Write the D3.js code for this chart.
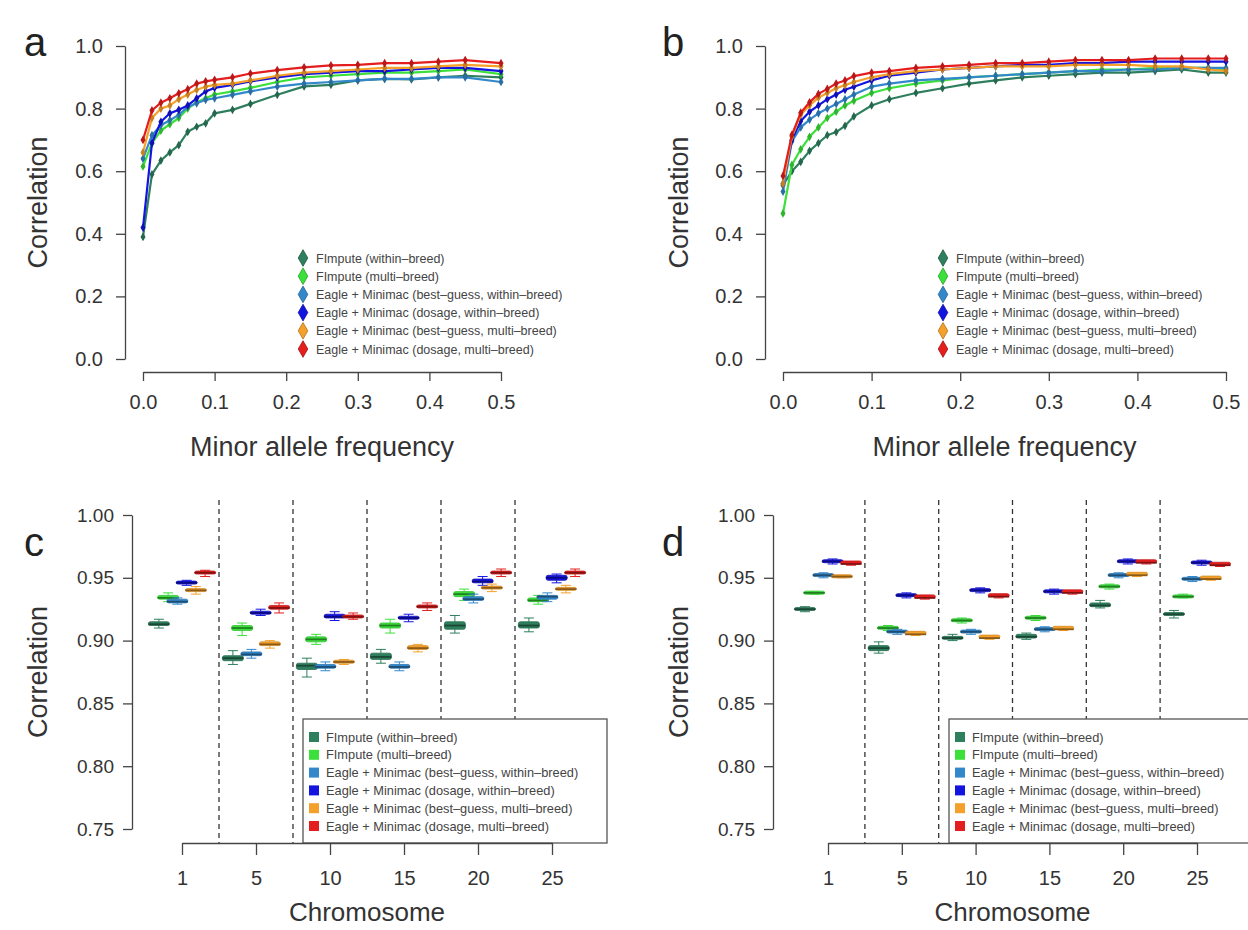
<!DOCTYPE html>
<html><head><meta charset="utf-8">
<script src="https://cdn.jsdelivr.net/npm/d3@7"></script>
<style>
body{margin:0;background:#fff}
text{font-family:"Liberation Sans",Arial,Helvetica,sans-serif;}
</style>
</head><body>
<svg id="fig" width="1248" height="930"></svg>
<script>
// ---------------- DATA ----------------
const methods = [
  "FImpute (within\u2013breed)",
  "FImpute (multi\u2013breed)",
  "Eagle + Minimac (best\u2013guess, within\u2013breed)",
  "Eagle + Minimac (dosage, within\u2013breed)",
  "Eagle + Minimac (best\u2013guess, multi\u2013breed)",
  "Eagle + Minimac (dosage, multi\u2013breed)"
];
const colors = ["#2E7F5E", "#3BE03B", "#3388CC", "#1414E0", "#F5A02A", "#E41E1E"];

// panel a: minor allele frequency bins
const mafA = [0, 0.0125, 0.025, 0.0375, 0.05, 0.0625, 0.075, 0.0875, 0.1, 0.125, 0.15, 0.1875, 0.225, 0.2625, 0.3, 0.3375, 0.375, 0.4125, 0.45, 0.5];
const a_fimputeWithin = [0.39, 0.59, 0.634, 0.66, 0.683, 0.726, 0.742, 0.753, 0.785, 0.796, 0.815, 0.844, 0.871, 0.876, 0.89, 0.895, 0.893, 0.90, 0.905, 0.90];
const a_fimputeMulti  = [0.615, 0.69, 0.73, 0.75, 0.77, 0.80, 0.82, 0.833, 0.845, 0.855, 0.866, 0.885, 0.90, 0.905, 0.91, 0.915, 0.915, 0.92, 0.925, 0.91];
const a_bgWithin      = [0.64, 0.715, 0.747, 0.763, 0.78, 0.806, 0.817, 0.828, 0.833, 0.844, 0.855, 0.87, 0.88, 0.885, 0.89, 0.895, 0.895, 0.90, 0.90, 0.885];
const a_dosWithin     = [0.42, 0.69, 0.758, 0.785, 0.796, 0.81, 0.833, 0.855, 0.866, 0.876, 0.887, 0.90, 0.91, 0.915, 0.92, 0.92, 0.925, 0.93, 0.93, 0.92];
const a_bgMulti       = [0.66, 0.77, 0.80, 0.81, 0.83, 0.845, 0.86, 0.87, 0.876, 0.88, 0.89, 0.905, 0.915, 0.92, 0.925, 0.93, 0.93, 0.935, 0.94, 0.935];
const a_dosMulti      = [0.70, 0.794, 0.819, 0.833, 0.849, 0.862, 0.88, 0.887, 0.892, 0.90, 0.912, 0.923, 0.932, 0.938, 0.94, 0.945, 0.945, 0.95, 0.955, 0.945];

// panel b
const mafB = [0, 0.01, 0.02, 0.03, 0.04, 0.05, 0.06, 0.07, 0.08, 0.1, 0.12, 0.15, 0.18, 0.21, 0.24, 0.27, 0.3, 0.33, 0.36, 0.39, 0.42, 0.45, 0.48, 0.5];
const b_fimputeWithin = [0.555, 0.60, 0.63, 0.665, 0.69, 0.715, 0.725, 0.745, 0.775, 0.81, 0.83, 0.85, 0.865, 0.88, 0.89, 0.90, 0.905, 0.91, 0.915, 0.915, 0.92, 0.925, 0.915, 0.915];
const b_fimputeMulti  = [0.465, 0.62, 0.67, 0.71, 0.74, 0.77, 0.79, 0.81, 0.825, 0.85, 0.865, 0.88, 0.89, 0.90, 0.905, 0.91, 0.915, 0.92, 0.925, 0.925, 0.93, 0.93, 0.93, 0.925];
const b_bgWithin      = [0.535, 0.695, 0.74, 0.765, 0.785, 0.80, 0.815, 0.83, 0.845, 0.87, 0.88, 0.89, 0.895, 0.90, 0.905, 0.91, 0.915, 0.92, 0.92, 0.925, 0.925, 0.93, 0.93, 0.93];
const b_dosWithin     = [0.56, 0.70, 0.76, 0.79, 0.81, 0.83, 0.845, 0.86, 0.87, 0.89, 0.905, 0.915, 0.925, 0.93, 0.935, 0.94, 0.94, 0.945, 0.945, 0.95, 0.95, 0.95, 0.95, 0.95];
const b_bgMulti       = [0.56, 0.71, 0.78, 0.81, 0.835, 0.85, 0.865, 0.875, 0.885, 0.90, 0.91, 0.92, 0.925, 0.93, 0.935, 0.935, 0.935, 0.94, 0.94, 0.94, 0.935, 0.935, 0.925, 0.92];
const b_dosMulti      = [0.585, 0.716, 0.787, 0.82, 0.847, 0.863, 0.88, 0.89, 0.904, 0.915, 0.92, 0.93, 0.935, 0.94, 0.945, 0.945, 0.95, 0.955, 0.955, 0.955, 0.96, 0.96, 0.96, 0.96];

// panels c & d: chromosomes; each box = [lower whisker, q1, median, q3, upper whisker]
const chromosomes = ["1", "5", "10", "15", "20", "25"];
const c_fimputeWithin = [[0.910,0.912,0.913,0.915,0.917],[0.881,0.884,0.886,0.888,0.892],[0.871,0.877,0.880,0.882,0.886],[0.882,0.885,0.887,0.890,0.893],[0.906,0.909,0.912,0.915,0.920],[0.907,0.910,0.912,0.915,0.918]];
const c_fimputeMulti  = [[0.931,0.933,0.934,0.936,0.938],[0.904,0.908,0.910,0.912,0.914],[0.897,0.899,0.901,0.903,0.905],[0.906,0.910,0.912,0.914,0.917],[0.932,0.935,0.937,0.939,0.941],[0.929,0.931,0.932,0.934,0.936]];
const c_bgWithin      = [[0.929,0.930,0.931,0.933,0.934],[0.886,0.888,0.889,0.891,0.893],[0.876,0.878,0.879,0.881,0.883],[0.876,0.878,0.879,0.881,0.883],[0.930,0.932,0.933,0.935,0.937],[0.931,0.933,0.935,0.936,0.938]];
const c_dosWithin     = [[0.944,0.945,0.946,0.947,0.948],[0.920,0.921,0.922,0.923,0.925],[0.916,0.918,0.919,0.921,0.923],[0.915,0.917,0.918,0.919,0.921],[0.944,0.946,0.947,0.949,0.951],[0.946,0.948,0.950,0.952,0.953]];
const c_bgMulti       = [[0.937,0.939,0.940,0.941,0.943],[0.894,0.896,0.897,0.899,0.900],[0.881,0.882,0.883,0.884,0.885],[0.891,0.893,0.894,0.896,0.897],[0.939,0.941,0.942,0.943,0.945],[0.938,0.940,0.941,0.942,0.944]];
const c_dosMulti      = [[0.951,0.953,0.954,0.955,0.956],[0.922,0.925,0.926,0.928,0.930],[0.917,0.918,0.919,0.920,0.922],[0.924,0.926,0.927,0.928,0.930],[0.951,0.953,0.954,0.955,0.957],[0.951,0.953,0.954,0.955,0.957]];

const d_fimputeWithin = [[0.923,0.924,0.925,0.926,0.927],[0.890,0.892,0.894,0.896,0.899],[0.900,0.901,0.902,0.903,0.905],[0.901,0.902,0.903,0.905,0.906],[0.926,0.927,0.928,0.930,0.932],[0.918,0.920,0.921,0.922,0.924]];
const d_fimputeMulti  = [[0.937,0.937,0.938,0.939,0.939],[0.908,0.909,0.910,0.911,0.912],[0.914,0.915,0.916,0.917,0.918],[0.916,0.917,0.918,0.919,0.920],[0.941,0.942,0.943,0.944,0.945],[0.934,0.934,0.935,0.936,0.937]];
const d_bgWithin      = [[0.950,0.951,0.952,0.953,0.954],[0.905,0.906,0.907,0.908,0.909],[0.905,0.906,0.907,0.908,0.909],[0.907,0.908,0.909,0.910,0.911],[0.950,0.951,0.952,0.953,0.954],[0.947,0.948,0.949,0.950,0.951]];
const d_dosWithin     = [[0.961,0.962,0.963,0.964,0.965],[0.934,0.935,0.936,0.937,0.938],[0.938,0.939,0.940,0.941,0.942],[0.937,0.938,0.939,0.940,0.941],[0.961,0.962,0.963,0.964,0.965],[0.960,0.961,0.962,0.963,0.964]];
const d_bgMulti       = [[0.950,0.950,0.951,0.952,0.952],[0.904,0.905,0.905,0.906,0.907],[0.901,0.902,0.902,0.903,0.903],[0.908,0.909,0.909,0.910,0.910],[0.951,0.952,0.952,0.953,0.953],[0.948,0.949,0.949,0.950,0.950]];
const d_dosMulti      = [[0.960,0.961,0.961,0.962,0.962],[0.933,0.934,0.934,0.935,0.936],[0.934,0.935,0.935,0.936,0.936],[0.937,0.938,0.938,0.939,0.939],[0.961,0.962,0.962,0.963,0.963],[0.959,0.960,0.960,0.961,0.961]];

const yTicksTop = [0, 0.2, 0.4, 0.6, 0.8, 1.0];
const xTicksTop = [0, 0.1, 0.2, 0.3, 0.4, 0.5];
const yTicksBottom = [0.75, 0.80, 0.85, 0.90, 0.95, 1.00];

// ---------------- DRAWING ----------------
const svg = d3.select("#fig");
svg.append("rect").attr("width",1248).attr("height",930).attr("fill","#fff");
const TXT = "#333";

function styleAxis(g, fs) {
  g.selectAll("path.domain").attr("stroke", "#444").attr("stroke-width", 1.3);
  g.selectAll(".tick line").attr("stroke", "#444").attr("stroke-width", 1.3);
  g.selectAll(".tick text").attr("fill", TXT).attr("font-size", fs)
   .attr("font-family", '"Liberation Sans",Arial,sans-serif');
}

function linePanel(cfg) {
  const x = d3.scaleLinear().domain([0, 0.5]).range(cfg.xr);
  const y = d3.scaleLinear().domain([0, 1]).range(cfg.yr);
  const g = svg.append("g");
  const ya = g.append("g").attr("transform", `translate(${cfg.yAxisX},0)`)
    .call(d3.axisLeft(y).tickValues(yTicksTop).tickFormat(d3.format(".1f")).tickSize(9).tickPadding(13).tickSizeOuter(0));
  styleAxis(ya, 20);
  const xa = g.append("g").attr("transform", `translate(0,${cfg.xAxisY})`)
    .call(d3.axisBottom(x).tickValues(xTicksTop).tickFormat(d3.format(".1f")).tickSize(9).tickPadding(14).tickSizeOuter(0));
  styleAxis(xa, 20);
  g.append("text").attr("x", cfg.letter[0]).attr("y", cfg.letter[1]).attr("font-size", 40).attr("fill", "#222").text(cfg.name);
  g.append("text").attr("transform", `translate(${cfg.ylabX},${(cfg.yr[0]+cfg.yr[1])/2}) rotate(-90)`)
    .attr("text-anchor", "middle").attr("font-size", 27).attr("fill", TXT).text("Correlation");
  g.append("text").attr("x", (cfg.xr[0]+cfg.xr[1])/2).attr("y", cfg.xlabY).attr("text-anchor", "middle")
    .attr("font-size", 27).attr("fill", TXT).text("Minor allele frequency");
  const line = d3.line().x(d => x(d[0])).y(d => y(d[1]));
  cfg.series.forEach((vals, k) => {
    const pts = cfg.maf.map((m, i) => [m, vals[i]]);
    g.append("path").datum(pts).attr("d", line).attr("fill", "none")
      .attr("stroke", colors[k]).attr("stroke-width", 2.2).attr("stroke-linejoin", "round");
    g.selectAll(null).data(pts).enter().append("path")
      .attr("transform", d => `translate(${x(d[0])},${y(d[1])})`)
      .attr("d", d3.symbol(d3.symbolDiamond, 22))
      .attr("fill", d3.color(colors[k]).darker(0.6));
  });
  methods.forEach((m, k) => {
    const yy = cfg.legY + k * 18.2;
    g.append("path").attr("transform", `translate(${cfg.legX},${yy})`)
      .attr("d", d3.symbol(d3.symbolDiamond, 80))
      .attr("fill", colors[k]).attr("stroke", d3.color(colors[k]).darker(1)).attr("stroke-width", 0.8);
    g.append("text").attr("x", cfg.legX + 13).attr("y", yy + 4.5).attr("font-size", 12.5)
      .attr("fill", "#444").text(m);
  });
}

linePanel({name: "a", xr: [143, 501], yr: [359, 46], yAxisX: 125, xAxisY: 372, letter: [24, 56], ylabX: 47, xlabY: 456,
  legX: 303, legY: 258, maf: mafA,
  series: [a_fimputeWithin, a_fimputeMulti, a_bgWithin, a_dosWithin, a_bgMulti, a_dosMulti]});
linePanel({name: "b", xr: [783, 1226], yr: [359, 46], yAxisX: 765, xAxisY: 372, letter: [662, 56], ylabX: 688, xlabY: 456,
  legX: 943, legY: 258, maf: mafB,
  series: [b_fimputeWithin, b_fimputeMulti, b_bgWithin, b_dosWithin, b_bgMulti, b_dosMulti]});

function boxPanel(cfg) {
  const x = d3.scaleLinear().domain([0, chromosomes.length - 1]).range(cfg.xr);
  const y = d3.scaleLinear().domain([0.75, 1.00]).range(cfg.yr);
  const g = svg.append("g");
  const step = (cfg.xr[1] - cfg.xr[0]) / (chromosomes.length - 1);
  d3.range(chromosomes.length - 1).forEach(i => {
    g.append("line").attr("x1", x(i + 0.5)).attr("x2", x(i + 0.5))
      .attr("y1", y(1.012)).attr("y2", cfg.xAxisY)
      .attr("stroke", "#333").attr("stroke-width", 1.3).attr("stroke-dasharray", "5,4");
  });
  const off = step / 8;
  const bw = 21;
  cfg.series.forEach((boxes, k) => {
    const col = colors[k];
    boxes.forEach((b, i) => {
      const cx = x(i) + (k - 2.5) * off;
      g.append("line").attr("x1", cx).attr("x2", cx).attr("y1", y(b[0])).attr("y2", y(b[1]))
        .attr("stroke", col).attr("stroke-width", 1);
      g.append("line").attr("x1", cx).attr("x2", cx).attr("y1", y(b[3])).attr("y2", y(b[4]))
        .attr("stroke", col).attr("stroke-width", 1);
      [b[0], b[4]].forEach(v => g.append("line").attr("x1", cx - 5).attr("x2", cx + 5)
        .attr("y1", y(v)).attr("y2", y(v)).attr("stroke", col).attr("stroke-width", 1));
      const top = y(b[3]), bot = y(b[1]);
      g.append("rect").attr("x", cx - bw / 2).attr("y", Math.min(top, bot - 3)).attr("width", bw)
        .attr("height", Math.max(bot - top, 3)).attr("rx", 2)
        .attr("fill", col).attr("stroke", d3.color(col).darker(0.4)).attr("stroke-width", 0.8);
      g.append("line").attr("x1", cx - bw / 2).attr("x2", cx + bw / 2).attr("y1", y(b[2])).attr("y2", y(b[2]))
        .attr("stroke", d3.color(col).darker(1.6)).attr("stroke-width", 1.8);
    });
  });
  const ya = g.append("g").attr("transform", `translate(${cfg.yAxisX},0)`)
    .call(d3.axisLeft(y).tickValues(yTicksBottom).tickFormat(d3.format(".2f")).tickSize(9).tickPadding(9).tickSizeOuter(0));
  styleAxis(ya, 19);
  const lg = g.append("g");
  lg.append("rect").attr("x", cfg.legX).attr("y", 719).attr("width", 304).attr("height", cfg.xAxisY - 719)
    .attr("fill", "#fff").attr("stroke", "#555").attr("stroke-width", 1.3);
  methods.forEach((m, k) => {
    const yy = 737 + k * 17.8;
    lg.append("rect").attr("x", cfg.legX + 6).attr("y", yy - 5).attr("width", 10).attr("height", 10).attr("fill", colors[k]);
    lg.append("text").attr("x", cfg.legX + 23).attr("y", yy + 4.5).attr("font-size", 12.8).attr("fill", "#444").text(m);
  });
  const xa = g.append("g").attr("transform", `translate(0,${cfg.xAxisY})`)
    .call(d3.axisBottom(x).tickValues(d3.range(chromosomes.length)).tickFormat(i => chromosomes[i])
      .tickSize(12).tickPadding(16).tickSizeOuter(0));
  styleAxis(xa, 20);
  g.append("text").attr("x", cfg.letter[0]).attr("y", cfg.letter[1]).attr("font-size", 40).attr("fill", "#222").text(cfg.name);
  g.append("text").attr("transform", `translate(${cfg.ylabX},${(cfg.yr[0]+cfg.yr[1])/2}) rotate(-90)`)
    .attr("text-anchor", "middle").attr("font-size", 27).attr("fill", TXT).text("Correlation");
  g.append("text").attr("x", (cfg.xr[0]+cfg.xr[1])/2).attr("y", cfg.xlabY).attr("text-anchor", "middle")
    .attr("font-size", 26).attr("fill", TXT).text("Chromosome");
}

boxPanel({name: "c", xr: [182, 552], yr: [829, 515], yAxisX: 132, xAxisY: 843, letter: [24, 556], ylabX: 47, xlabY: 921,
  legX: 303, series: [c_fimputeWithin, c_fimputeMulti, c_bgWithin, c_dosWithin, c_bgMulti, c_dosMulti]});
boxPanel({name: "d", xr: [828, 1197], yr: [829, 515], yAxisX: 773, xAxisY: 843, letter: [662, 556], ylabX: 688, xlabY: 921,
  legX: 949, series: [d_fimputeWithin, d_fimputeMulti, d_bgWithin, d_dosWithin, d_bgMulti, d_dosMulti]});
</script>
</body></html>
